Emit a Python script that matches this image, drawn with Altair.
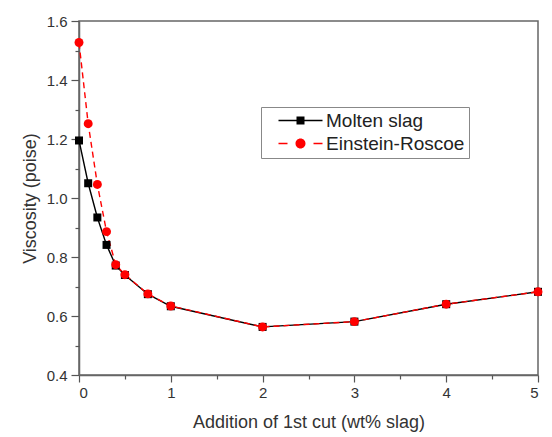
import altair as alt
import pandas as pd

# ---- data ----
x_vals = [0, 0.1, 0.2, 0.3, 0.4, 0.5, 0.75, 1, 2, 3, 4, 5]
molten = [1.195, 1.050, 0.934, 0.841, 0.771, 0.739, 0.674, 0.633, 0.563, 0.581, 0.640, 0.682]
einstein = [1.527, 1.252, 1.046, 0.886, 0.774, 0.740, 0.675, 0.634, 0.563, 0.581, 0.640, 0.682]
series_names = ["Molten slag", "Einstein-Roscoe"]
series_colors = ["#000000", "#ff0000"]

x_major = [0, 1, 2, 3, 4, 5]
x_minor = [0.5, 1.5, 2.5, 3.5, 4.5]
y_major = [0.4, 0.6, 0.8, 1.0, 1.2, 1.4, 1.6]
y_minor = [0.5, 0.7, 0.9, 1.1, 1.3, 1.5]

rows = []
for xv, yv in zip(x_vals, molten):
    rows.append({"x": xv, "y": yv, "series": series_names[0]})
for xv, yv in zip(x_vals, einstein):
    rows.append({"x": xv, "y": yv, "series": series_names[1]})
df = pd.DataFrame(rows)

FONT = "Liberation Sans"

def xs():
    return alt.Scale(domain=[0, 5], nice=False, zero=False)

def ys():
    return alt.Scale(domain=[0.4, 1.6], nice=False, zero=False)

cscale = alt.Scale(domain=series_names, range=series_colors)

# legend symbols: line + marker drawn as one filled path
legend_paths = [
    "M-4.4,-0.13H4.4V0.13H-4.4Z M-0.8,-0.8H0.8V0.8H-0.8Z",
    "M-4.4,-0.13H-2.6V0.13H-4.4Z M2.6,-0.13H4.4V0.13H2.6Z "
    "M-1,0A1,1 0 1,0 1,0A1,1 0 1,0 -1,0Z",
]

x_main = alt.X("x:Q", scale=xs(),
               axis=alt.Axis(values=x_major, title="Addition of 1st cut (wt% slag)",
                             orient="bottom", grid=False, tickSize=7, labelPadding=3,
                             titlePadding=13, format="d"))
y_main = alt.Y("y:Q", scale=ys(),
               axis=alt.Axis(values=y_major, title="Viscosity (poise)", orient="left",
                             grid=False, tickSize=8, labelPadding=4, titlePadding=7,
                             format=".1f"))

base = alt.Chart(df)

line_black = base.transform_filter(alt.datum.series == series_names[0]).mark_line(
    strokeWidth=1.4).encode(
    x=x_main, y=y_main, color=alt.Color("series:N", scale=cscale, legend=None))
line_red = base.transform_filter(alt.datum.series == series_names[1]).mark_line(
    strokeWidth=1.4, strokeDash=[6, 4]).encode(
    x="x:Q", y="y:Q", color=alt.Color("series:N", scale=cscale, legend=None))
pts_black = base.transform_filter(alt.datum.series == series_names[0]).mark_point(
    filled=True, shape="square", size=64, opacity=1).encode(
    x="x:Q", y="y:Q", color=alt.Color("series:N", scale=cscale, legend=None))
pts_red = base.transform_filter(alt.datum.series == series_names[1]).mark_point(
    filled=True, shape="circle", size=80, opacity=1).encode(
    x="x:Q", y="y:Q", color=alt.Color("series:N", scale=cscale, legend=None))

data_layers = alt.layer(line_black, line_red, pts_black, pts_red)

# minor ticks (invisible points carrying a second pair of axes)
minor_layer = base.mark_point(opacity=0).encode(
    x=alt.X("x:Q", scale=xs(),
            axis=alt.Axis(values=x_minor, labels=False, domain=False, tickSize=4,
                          orient="bottom", title=None, grid=False)),
    y=alt.Y("y:Q", scale=ys(),
            axis=alt.Axis(values=y_minor, labels=False, domain=False, tickSize=4,
                          orient="left", title=None, grid=False)),
)

leg = alt.Legend(title=None, orient="none", legendX=182, legendY=86,
                 symbolSize=100, symbolOffset=26, labelOffset=16,
                 padding=4, rowPadding=3, strokeColor="#888888", fillColor="white")

legend_layer = base.transform_filter("datum.x < -1").mark_point(
    filled=True, opacity=1).encode(
    color=alt.Color("series:N", scale=cscale, legend=leg),
    shape=alt.Shape("series:N", scale=alt.Scale(domain=series_names, range=legend_paths),
                    legend=leg),
)

chart = alt.layer(data_layers, minor_layer, legend_layer).resolve_scale(
    x="independent", y="independent"
).resolve_axis(
    x="independent", y="independent"
).resolve_legend(
    color="independent", shape="independent"
).properties(
    width=459, height=354,
    autosize=alt.AutoSizeParams(type="none"),
    padding={"left": 79, "top": 21, "right": 14, "bottom": 62},
).configure_view(
    stroke="#666666", strokeWidth=1.5
).configure_axis(
    labelFont=FONT, titleFont=FONT, labelFontSize=15, titleFontSize=18,
    labelColor="#333333", titleColor="#333333", titleFontWeight="normal",
    tickColor="#555555", domainColor="#666666", domainWidth=1.5, tickWidth=1.2,
).configure_legend(
    labelFont=FONT, labelFontSize=19, labelColor="#222222", symbolStrokeWidth=0,
)

chart.save("out.html", embed_options={"renderer": "svg", "actions": False})
